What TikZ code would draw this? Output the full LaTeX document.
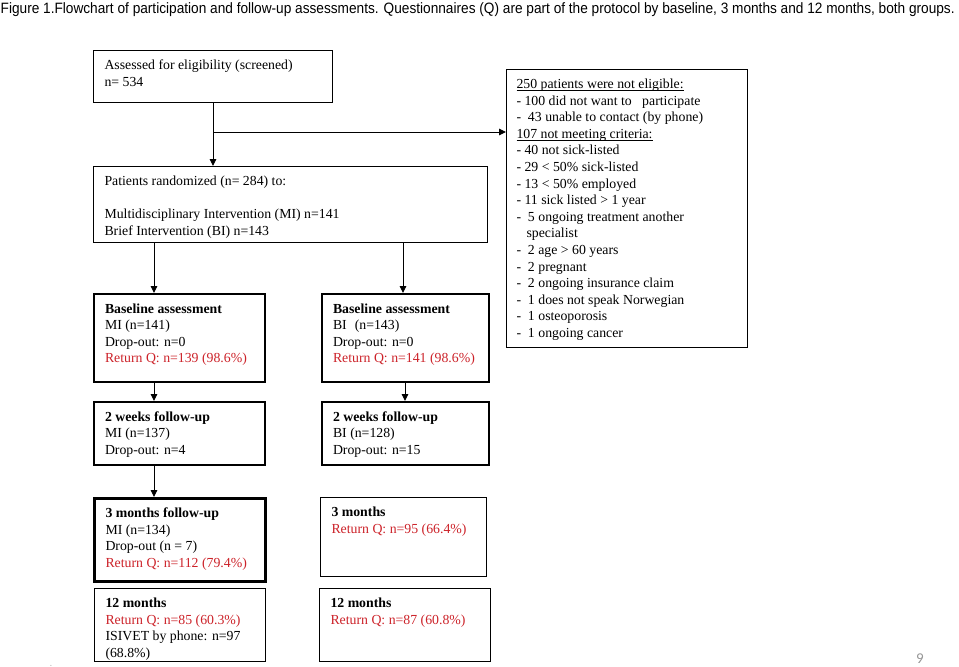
\documentclass[tikz,border=0pt]{standalone}
\usepackage{fontspec}
\setmainfont{Liberation Serif}
\newfontfamily\capfont{Liberation Sans}
\newfontfamily\numfont{Carlito}
\usetikzlibrary{arrows.meta}
\definecolor{qred}{RGB}{204,34,41}
\definecolor{pgray}{RGB}{150,150,150}
\newcommand{\bx}[3]{\parbox[c][#2][t]{#1}{\raggedright\strut #3}}
\newcommand{\qr}[1]{\textcolor{qred}{#1}}
\newsavebox{\ulbox}
\newcommand{\ulin}[1]{\leavevmode\sbox{\ulbox}{#1}\rlap{\rule[-1.8pt]{\wd\ulbox}{0.6pt}}\usebox{\ulbox}}
\begin{document}
\begin{tikzpicture}[x=1pt,y=-1pt,
  box/.style={draw, line width=1pt, inner xsep=11pt, inner ysep=7.4pt, anchor=north west,
    font=\fontsize{13.8}{16.6}\selectfont},
  boldbox/.style={box, line width=2pt},
  heavybox/.style={box, line width=3pt},
  arr/.style={-{Triangle[length=7pt,width=6.5pt]}, line width=0.9pt}]
\useasboundingbox (0,0) rectangle (959,667);

\node[anchor=base west, inner sep=0pt, font=\capfont\fontsize{15}{17}\selectfont] (cap) at (0.5,13.5)
  {\resizebox{954pt}{\height}{Figure 1.Flowchart of participation and follow-up assessments. Questionnaires (Q) are part of the protocol by baseline, 3 months and 12 months, both groups.}};

\node[box] (b1) at (93,50) {\bx{217pt}{37.2pt}{Assessed for eligibility (screened)\\n= 534}};

\node[box] (b2) at (93,166) {\bx{372pt}{61.2pt}{Patients randomized (n= 284) to:\\\strut\\Multidisciplinary Intervention (MI) n=141\\Brief Intervention (BI) n=143}};

\node[box, inner xsep=10pt] (b3) at (506,69) {\bx{221pt}{263.2pt}{\ulin{250 patients were not eligible:}\\
- 100 did not want to \ \ participate\\
- \ 43 unable to contact (by phone)\\
\ulin{107 not meeting criteria:}\\
- 40 not sick-listed\\
- 29 < 50\% sick-listed\\
- 13 < 50\% employed\\
- 11 sick listed > 1 year\\
- \ 5 ongoing treatment another\\
\hspace*{10pt}specialist\\
- \ 2 age > 60 years\\
- \ 2 pregnant\\
- \ 2 ongoing insurance claim\\
- \ 1 does not speak Norwegian\\
- \ 1 osteoporosis\\
- \ 1 ongoing cancer}};

\node[boldbox] (mi1) at (93,293) {\bx{149pt}{73.2pt}{\textbf{Baseline assessment}\\MI (n=141)\\Drop-out: n=0\\\qr{Return Q: n=139 (98.6\%)}}};
\node[boldbox] (bi1) at (321,293) {\bx{145pt}{73.2pt}{\textbf{Baseline assessment}\\BI\hspace{8pt}(n=143)\\Drop-out: n=0\\\qr{Return Q: n=141 (98.6\%)}}};

\node[boldbox] (mi2) at (93,401) {\bx{149pt}{48.2pt}{\textbf{2 weeks follow-up}\\MI (n=137)\\Drop-out: n=4}};
\node[boldbox] (bi2) at (321,401) {\bx{145pt}{48.2pt}{\textbf{2 weeks follow-up}\\BI (n=128)\\Drop-out: n=15}};

\node[heavybox] (mi3) at (93,497) {\bx{149pt}{68.2pt}{\textbf{3 months follow-up}\\MI (n=134)\\Drop-out (n = 7)\\\qr{Return Q: n=112 (79.4\%)}}};
\node[box] (bi3) at (320,497) {\bx{144pt}{64.2pt}{\textbf{3 months}\\\qr{Return Q: n=95 (66.4\%)}}};

\node[box] (mi4) at (94,588) {\bx{149pt}{58.2pt}{\textbf{12 months}\\\qr{Return Q: n=85 (60.3\%)}\\ISIVET by phone: n=97\\(68.8\%)}};
\node[box] (bi4) at (319,588) {\bx{149pt}{58.2pt}{\textbf{12 months}\\\qr{Return Q: n=87 (60.8\%)}}};

\node[text=pgray, font=\numfont\fontsize{15}{18}\selectfont, inner sep=0pt] (pg) at (920,659) {9};
\node[text=pgray!70, font=\capfont\fontsize{10}{12}\selectfont, inner sep=0pt, anchor=base] (dot) at (51,666) {.};

\coordinate (br) at ([yshift=-29pt]b1.south);
\draw[arr] (b1.south) -- (b2.north -| b1.south);
\draw[arr] (br) -- (br -| b3.west);
\draw[arr] ([xshift=61pt]b2.south west) -- ([xshift=61pt]mi1.north west);
\draw[arr] ([xshift=310pt]b2.south west) -- ([xshift=82pt]bi1.north west);
\draw[arr] ([xshift=61pt]mi1.south west) -- ([xshift=61pt]mi2.north west);
\draw[arr] ([xshift=84pt]bi1.south west) -- ([xshift=84pt]bi2.north west);
\draw[arr] ([xshift=61pt]mi2.south west) -- ([xshift=61pt]mi3.north west);
\end{tikzpicture}
\end{document}
